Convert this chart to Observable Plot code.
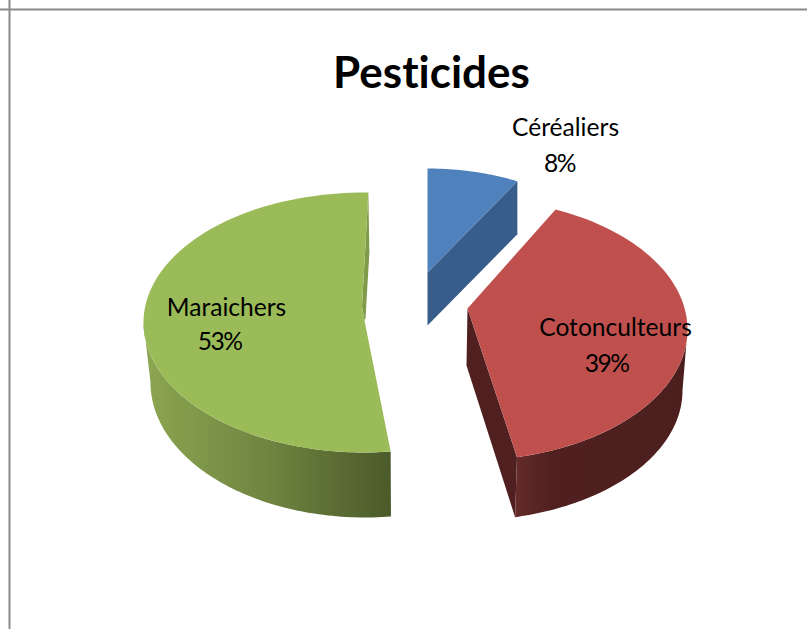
<!DOCTYPE html>
<html>
<head>
<meta charset="utf-8">
<style>html,body{margin:0;padding:0;background:#fff;overflow:hidden}svg{display:block}</style>
<script src="https://cdn.jsdelivr.net/npm/d3@7"></script>
<script src="https://cdn.jsdelivr.net/npm/@observablehq/plot@0.6"></script>
</head>
<body>
<div id="chart"></div>
<script>
// Data
const titleText = "Pesticides";
const categories = ["Céréaliers", "Cotonculteurs", "Maraichers"];
const shares = [8, 39, 53];

// Presentation (no data here): projection of each exploded slice
const W = 807, H = 629;
const fontFamily = "Lato, 'Open Sans', sans-serif";
const topColors = ["#4f81bd", "#c0504d", "#9bbb59"];
const cutColors = ["#385d8a", "#4f201f", "#7f9a48"];
const apexTop = [[427, 272], [467, 308], [364, 320]];
const apexBottom = [[427, 325], [466, 365], [365, 380]];
const ellipseTop = [[427, 288, 200, 120], [467, 329, 220, 131], [364, 322, 221, 130]];
const ellipseBottom = [[427, 341, 200, 120], [466, 390, 216, 130], [365, 382, 215, 135]];
const angleAdjust = [[0, -2.1], [-5.2, -2.2], [4, 1]];
const labelX = [565, 615, 226], labelY = [128, 328, 308];
const pctX = [559, 606, 219], pctY = [164, 364, 342];

// Slice angles come from the shares
const total = d3.sum(shares);
const cum = d3.cumsum(shares);
const spans = shares.map((s, i) => {
  const a0 = (cum[i] - s) / total * 360 + angleAdjust[i][0];
  const a1 = cum[i] / total * 360 + angleAdjust[i][1];
  return [a0, a1];
});
const onRim = (e, deg) => {
  const r = deg * Math.PI / 180;
  return [e[0] + e[2] * Math.sin(r), e[1] - e[3] * Math.cos(r)];
};
const arcPts = (e, a0, a1, n = 80) => d3.range(n + 1).map(k => onRim(e, a0 + (a1 - a0) * k / n));

const polys = [];
let nextId = 0;
const add = (pts, color) => {
  const id = nextId++;
  pts.forEach(p => polys.push({id, x: p[0], y: p[1], color}));
};
const wall = (i, from, to, color) => add([...arcPts(ellipseTop[i], from, to), ...arcPts(ellipseBottom[i], to, from)], color);

// Blue: visible cut face then top
{
  const i = 0, [a0, a1] = spans[i];
  add([apexTop[i], onRim(ellipseTop[i], a1), onRim(ellipseBottom[i], a1), apexBottom[i]], cutColors[i]);
  add([apexTop[i], ...arcPts(ellipseTop[i], a0, a1)], topColors[i]);
}
// Green: side wall with shading, far cut sliver, top
{
  const i = 2, [a0, a1] = spans[i];
  wall(i, a0, 270, "url(#wallGreen)");
  const R = onRim(ellipseTop[i], a1), A = apexTop[i], notch = [A[0] - 2.5, A[1] - 14];
  add([R, [R[0] + 1, R[1] + 60], [A[0] + 1, A[1] - 2], A, notch], cutColors[i]);
  add([A, ...arcPts(ellipseTop[i], a0, a1), notch], topColors[i]);
}
// Red: cut face, side wall, top
{
  const i = 1, [a0, a1] = spans[i];
  add([apexTop[i], onRim(ellipseTop[i], a1), onRim(ellipseBottom[i], a1), apexBottom[i]], cutColors[i]);
  wall(i, a1, 90, "url(#wallRed)");
  add([apexTop[i], ...arcPts(ellipseTop[i], a0, a1)], topColors[i]);
}

const labelRows = categories.map((name, i) => ({name, pct: `${Math.round(shares[i] / total * 100)}%`, lx: labelX[i], ly: labelY[i], px: pctX[i], py: pctY[i]}));

// Horizontal shading of the side walls, as SVG gradients the polygons refer to
const gradients = () => {
  const defs = d3.create("svg:defs");
  const grad = (id, stops) => {
    const g = defs.append("linearGradient").attr("id", id);
    stops.forEach(([o, c]) => g.append("stop").attr("offset", o).attr("stop-color", c));
  };
  grad("wallGreen", [[0, "#8ca651"], [0.5, "#6f8540"], [1, "#4b5a2a"]]);
  grad("wallRed", [[0, "#642b2a"], [0.22, "#4f201f"], [1, "#4c1f1e"]]);
  return defs.node();
};
const tight = (i, s, v, d, c, next) => {
  const g = next(i, s, v, d, c);
  g.style.letterSpacing = "-1.5px";
  return g;
};

const chart = Plot.plot({
  width: W, height: H,
  margin: 0,
  x: {domain: [0, W], range: [0, W], axis: null},
  y: {domain: [0, H], range: [0, H], axis: null},
  color: {type: "identity"},
  style: {background: "#fff", fontVariantLigatures: "none"},
  marks: [
    gradients,
    Plot.ruleX([9], {stroke: "#8a8a8a", strokeWidth: 2}),
    Plot.ruleY([9], {stroke: "#8a8a8a", strokeWidth: 2}),
    Plot.line(polys, {x: "x", y: "y", z: "id", fill: "color", stroke: "none", curve: "linear-closed"}),
    Plot.text([titleText], {x: () => 431, y: () => 73, text: d => d, fontFamily, fontWeight: 700, fontSize: 44, fill: "#000", textAnchor: "middle", lineAnchor: "middle"}),
    Plot.text(labelRows, {x: "lx", y: "ly", text: "name", fontFamily, fontSize: 24.6, fill: "#000", textAnchor: "middle", lineAnchor: "middle"}),
    Plot.text(labelRows, {x: "px", y: "py", text: "pct", fontFamily, fontSize: 24.6, fill: "#000", textAnchor: "middle", lineAnchor: "middle", render: tight})
  ]
});
document.getElementById("chart").append(chart);
</script>
</body>
</html>
